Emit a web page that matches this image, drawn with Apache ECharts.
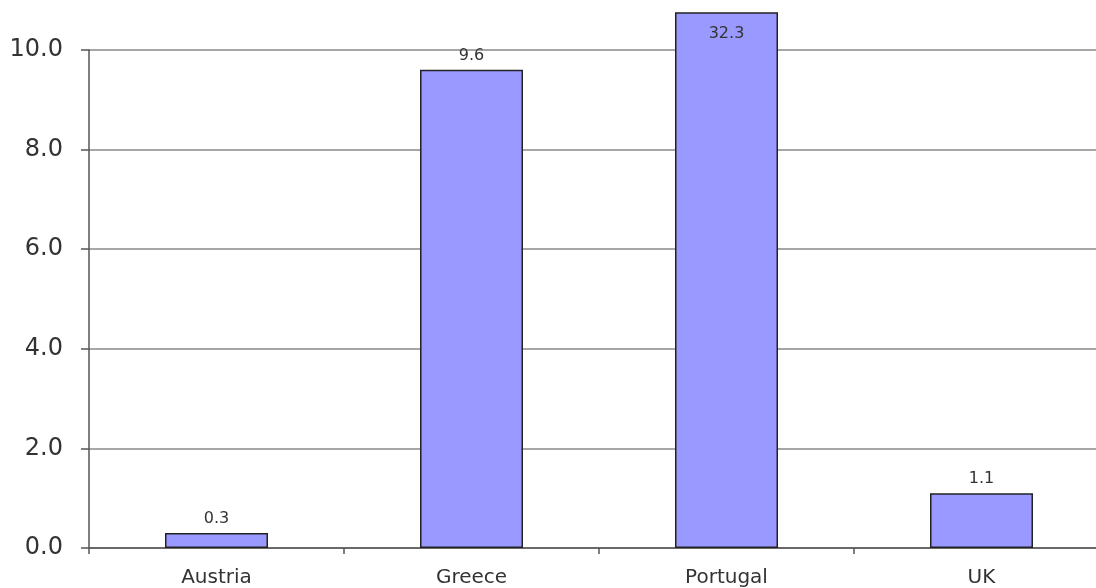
<!DOCTYPE html>
<html>
<head>
<meta charset="utf-8">
<script src="https://cdn.jsdelivr.net/npm/echarts@6/dist/echarts.min.js"></script>
<style>
html,body{margin:0;padding:0;background:#fff;overflow:hidden;width:1096px;height:588px;}
#chart{width:1109px;height:588px;}
</style>
</head>
<body>
<div id="chart"></div>
<script>
const categories = ['Austria', 'Greece', 'Portugal', 'UK'];
const values = [0.3, 9.6, 32.3, 1.1];
const yTicks = [0, 2, 4, 6, 8, 10];

const chart = echarts.init(document.getElementById('chart'), null, {renderer: 'canvas'});
const font = 'DejaVu Sans';
const gridL = 89, gridR = 0, gridB = 40;

chart.setOption({
  animation: false,
  backgroundColor: '#ffffff',
  grid: [
    {left: gridL, right: gridR, top: 50, bottom: gridB},
    {left: gridL, right: gridR, top: 13, bottom: gridB}
  ],
  xAxis: [
    {
      gridIndex: 0, type: 'category', data: categories, boundaryGap: true,
      axisLine: {show: true, lineStyle: {color: '#555', width: 1.5}},
      axisTick: {show: true, length: 6, lineStyle: {color: '#555', width: 1.5}},
      axisLabel: {margin: 20, fontFamily: font, fontSize: 20, color: '#333'}
    },
    {
      gridIndex: 1, type: 'category', data: categories, boundaryGap: true,
      show: false
    }
  ],
  yAxis: [
    {
      gridIndex: 0, type: 'value', min: yTicks[0], max: yTicks[yTicks.length - 1],
      interval: yTicks[1] - yTicks[0],
      axisLine: {show: true, lineStyle: {color: '#555', width: 1.5}},
      axisTick: {show: true, length: 8, lineStyle: {color: '#555', width: 1.5}},
      axisLabel: {margin: 26, fontFamily: font, fontSize: 24, color: '#333',
        formatter: v => v.toFixed(1)},
      splitLine: {show: true, lineStyle: {color: '#888', width: 1.5}}
    },
    {
      gridIndex: 1, type: 'value', min: 0, max: 10.74, show: false,
      splitLine: {show: false}
    }
  ],
  series: [{
    type: 'bar',
    xAxisIndex: 1, yAxisIndex: 1,
    clip: true,
    barWidth: 103,
    data: values.map((v, i) => categories[i] === 'Portugal'
      ? {value: v, label: {position: 'insideTop', distance: 14}}
      : v),
    itemStyle: {color: '#9999ff', borderColor: '#222', borderWidth: 1.5},
    label: {
      show: true, position: 'top', distance: 6,
      fontFamily: font, fontSize: 16, color: '#333',
      formatter: p => p.value.toFixed(1)
    }
  }]
});
</script>
</body>
</html>
